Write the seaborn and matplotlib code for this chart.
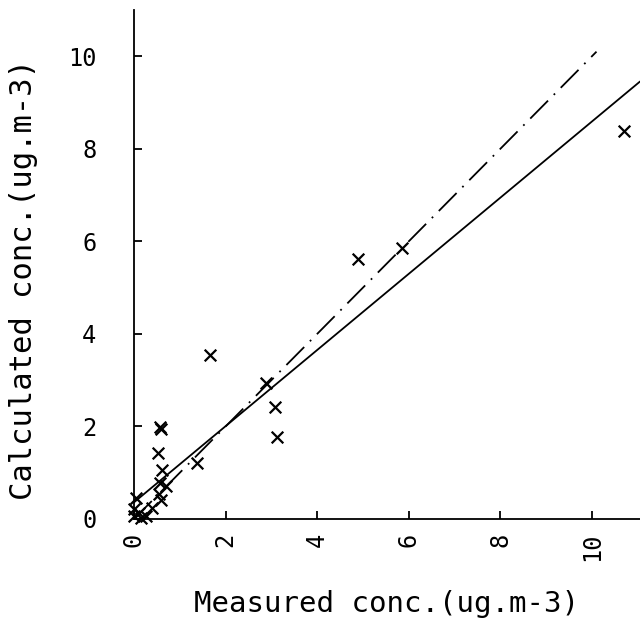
import matplotlib
matplotlib.use("Agg")
import matplotlib.pyplot as plt
import numpy as np
import pandas as pd
import seaborn as sns

# Data
measured = [10.70, 5.86, 4.90, 1.65, 2.89, 3.08, 3.13, 1.38, 0.57, 0.60,
            0.53, 0.62, 0.56, 0.69, 0.55, 0.60, 0.40, 0.04, 0.00, 0.00,
            0.15, 0.11, 0.26]
calculated = [8.38, 5.86, 5.61, 3.54, 2.93, 2.43, 1.78, 1.22, 1.99, 1.94,
              1.42, 1.06, 0.77, 0.71, 0.55, 0.40, 0.24, 0.46, 0.21, 0.06,
              0.03, 0.13, 0.06]
x_ticks = [0, 2, 4, 6, 8, 10]
y_ticks = [0, 2, 4, 6, 8, 10]

# Regression line (solid) and 1:1 line (dash-dot)
fit_intercept = 0.36
fit_slope = 0.823
identity_max = 10.1

x_max = 11.05
y_max = 11.0

sns.set_style("ticks")
plt.rcParams['font.family'] = ['DejaVu Sans Mono', 'DejaVu Sans']

fig = plt.figure(figsize=(6.4, 6.2), dpi=100)
ax = fig.add_axes([134 / 640, 101 / 620, 506 / 640, 509 / 620])

df = pd.DataFrame({"measured": measured, "calculated": calculated})

fit_x = np.array([0.0, x_max])
fit_df = pd.DataFrame({"x": fit_x, "y": fit_intercept + fit_slope * fit_x})
id_x = np.array([0.0, identity_max])
id_df = pd.DataFrame({"x": id_x, "y": id_x})

sns.lineplot(data=fit_df, x="x", y="y", color="black", linewidth=1.3, ax=ax)
sns.lineplot(data=id_df, x="x", y="y", color="black", linewidth=1.3, ax=ax,
             linestyle=(0, (14, 4.5, 1.0, 4.5)))
sns.scatterplot(data=df, x="measured", y="calculated", marker="x",
                color="black", s=70, linewidth=1.6, ax=ax)
for c in ax.collections:
    c.set_clip_on(False)

ax.set_xlim(0, x_max)
ax.set_ylim(0, y_max)
sns.despine(ax=ax)
for s in ("left", "bottom"):
    ax.spines[s].set_linewidth(1.3)
    ax.spines[s].set_color("black")

ax.set_xticks(x_ticks)
ax.set_xticklabels([str(t) for t in x_ticks], rotation=90, va="top")
ax.set_yticks(y_ticks)
ax.set_yticklabels([str(t) for t in y_ticks])
ax.tick_params(axis="both", direction="in", length=6, width=1.3,
               labelsize=17, colors="black")
ax.tick_params(axis="y", pad=27)
ax.tick_params(axis="x", pad=10)

ax.set_xlabel("Measured conc.(ug.m-3)", fontsize=21, color="black")
ax.set_ylabel("Calculated conc.(ug.m-3)", fontsize=22, color="black")
ax.xaxis.set_label_coords(0.5, -0.14)
ax.yaxis.set_label_coords(-0.19, 0.47)

fig.savefig("out.png", dpi=100, facecolor="white")
